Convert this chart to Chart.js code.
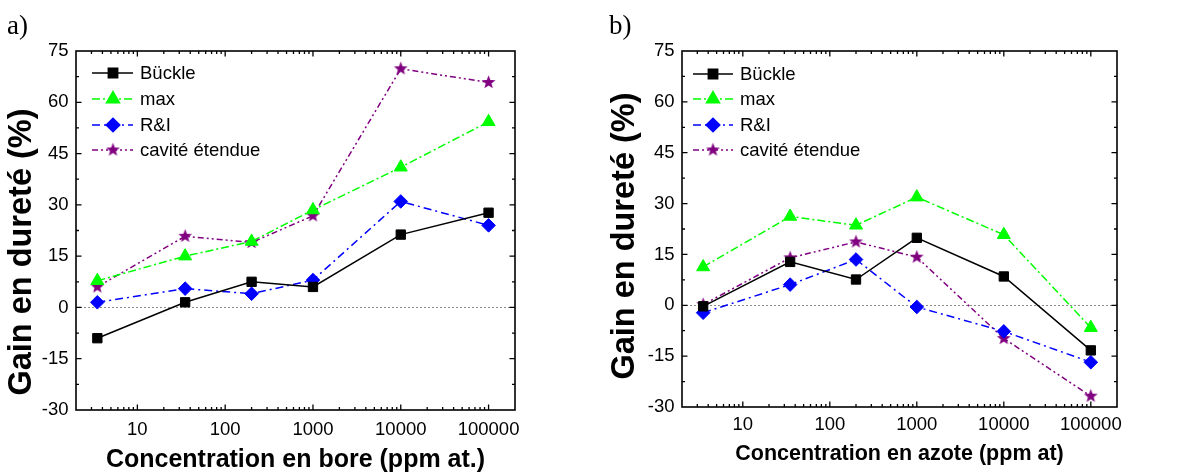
<!DOCTYPE html>
<html>
<head>
<meta charset="utf-8">
<script src="https://cdn.jsdelivr.net/npm/chart.js@4"></script>
<style>
  body{margin:0;background:#fff;width:1179px;height:473px;overflow:hidden;position:relative}
  canvas{position:absolute;top:0}
  #chartB{left:0}
  #chartA{left:590px}
</style>
</head>
<body>
<canvas id="chartB" width="590" height="473"></canvas>
<canvas id="chartA" width="589" height="473"></canvas>
<script>
// concentrations (ppm) - same for both panels
const concentrations = [3.5, 35, 200, 1000, 10000, 100000];

// a) bore
const boreBuckle  = [-9, 1.5, 7.5, 6, 21.3, 27.7];
const boreMax     = [7.8, 15, 19.3, 28.5, 41, 54.3];
const boreRI      = [1.5, 5.5, 4, 8, 31, 24];
const boreCavite  = [6, 20.8, 19, 26.8, 69.8, 65.8];

// b) azote
const azoteBuckle = [-0.3, 12.8, 7.6, 19.9, 8.5, -13.3];
const azoteMax    = [11.3, 26.2, 23.6, 31.9, 20.8, -6.6];
const azoteRI     = [-2.2, 6.1, 13.5, -0.5, -7.7, -16.8];
const azoteCavite = [0.2, 14, 18.7, 14.2, -9.8, -26.8];

const seriesNames = ['Bückle', 'max', 'R&I', 'cavité étendue'];
const xTickLabels = ['10', '100', '1000', '10000', '100000'];
const yTickLabels = ['-30', '-15', '0', '15', '30', '45', '60', '75'];

Chart.defaults.font.family = "'Liberation Sans', Arial, sans-serif";
Chart.defaults.color = '#000';

// filled five-point star marker
function makeStar(color, r){
  const c = document.createElement('canvas');
  const s = Math.ceil(r*2) + 2;
  c.width = c.height = s;
  const g = c.getContext('2d');
  g.fillStyle = color;
  g.beginPath();
  for(let i=0;i<10;i++){
    const rr = i%2 ? r*0.42 : r;
    const a = -Math.PI/2 + i*Math.PI/5;
    g.lineTo(s/2 + rr*Math.cos(a), s/2 + rr*Math.sin(a));
  }
  g.closePath();
  g.fill();
  return c;
}
const star = makeStar('#800080', 7.2);

const styles = [
  {color:'#000000', dash:[], point:'rect', radius:6.6},
  {color:'#00ff00', dash:[8,3,2,3], point:'triangle', radius:7.5},
  {color:'#0000ff', dash:[8,4,2,4], point:'rectRot', radius:6.8},
  {color:'#800080', dash:[6,3,2,3,2,3], point:star, radius:7}
];

// x minor/major tick values for the log axis
const xTicks = [];
for(let e=0;e<=5;e++){
  for(let k=1;k<=9;k++){
    const v = k*Math.pow(10,e);
    if(v>=2 && v<=200000) xTicks.push(v);
  }
}

function toPoints(ys){ return ys.map((y,i)=>({x:concentrations[i], y:y})); }

// frame, inward ticks on all four sides, dashed zero line
const framePlugin = {
  id:'frame',
  beforeDatasetsDraw(chart){
    const {ctx, chartArea:a, scales:{x, y}} = chart;
    ctx.save();
    // zero line
    const y0 = Math.round(y.getPixelForValue(0)) + 0.5;
    ctx.strokeStyle = '#8c8c8c';
    ctx.lineWidth = 1;
    ctx.setLineDash([2,2]);
    ctx.beginPath(); ctx.moveTo(a.left, y0); ctx.lineTo(a.right, y0); ctx.stroke();
    ctx.setLineDash([]);
    ctx.strokeStyle = '#000';
    ctx.lineWidth = 1.3;
    x.ticks.forEach(t=>{
      const px = x.getPixelForValue(t.value);
      if(px < a.left+1 || px > a.right-1) return;
      const len = xTickLabels.includes(String(t.value)) ? 5.5 : 3;
      ctx.beginPath();
      ctx.moveTo(px, a.bottom); ctx.lineTo(px, a.bottom-len);
      ctx.moveTo(px, a.top); ctx.lineTo(px, a.top+len);
      ctx.stroke();
    });
    y.ticks.forEach(t=>{
      const py = y.getPixelForValue(t.value);
      if(py < a.top+1 || py > a.bottom-1) return;
      const len = yTickLabels.includes(String(t.value)) ? 5.5 : 3;
      ctx.beginPath();
      ctx.moveTo(a.left, py); ctx.lineTo(a.left+len, py);
      ctx.moveTo(a.right, py); ctx.lineTo(a.right-len, py);
      ctx.stroke();
    });
    ctx.lineWidth = 1.6;
    ctx.strokeRect(a.left, a.top, a.right-a.left, a.bottom-a.top);
    ctx.restore();
  }
};

// legend inside plot, y title and panel letter
const decorPlugin = {
  id:'decor',
  afterDatasetsDraw(chart, args, o){
    const ctx = chart.ctx;
    ctx.save();
    chart.data.datasets.forEach((ds,i)=>{
      const yy = o.legendRows[i];
      ctx.strokeStyle = ds.borderColor;
      ctx.lineWidth = 1.5;
      ctx.setLineDash(ds.borderDash);
      ctx.beginPath(); ctx.moveTo(o.legendX0, yy); ctx.lineTo(o.legendX1, yy); ctx.stroke();
      ctx.setLineDash([]);
      ctx.fillStyle = ds.borderColor;
      Chart.helpers.drawPoint(ctx, {pointStyle:ds.pointStyle, radius:ds.pointRadius, rotation:0, borderWidth:1}, o.legendMark, yy);
      ctx.fillStyle = '#000';
      ctx.font = "18.5px 'Liberation Sans', Arial, sans-serif";
      ctx.textBaseline = 'middle';
      ctx.textAlign = 'left';
      ctx.fillText(ds.label, o.legendText, yy+1);
    });
    // y title
    ctx.save();
    ctx.translate(o.yTitleX, o.yTitleY);
    ctx.rotate(-Math.PI/2);
    ctx.font = "bold 32.5px 'Liberation Sans', Arial, sans-serif";
    ctx.textAlign = 'center';
    ctx.textBaseline = 'middle';
    ctx.fillStyle = '#000';
    ctx.fillText('Gain en dureté (%)', 0, 0);
    ctx.restore();
    // panel letter
    ctx.font = "27px 'Liberation Serif', 'Times New Roman', serif";
    ctx.textAlign = 'left';
    ctx.textBaseline = 'alphabetic';
    ctx.fillText(o.panel, o.panelX, 34);
    ctx.restore();
  }
};

function makeChart(id, series, cfg){
  const canvas = document.getElementById(id);
  const W = canvas.width, H = canvas.height;
  const datasets = series.map((ys,i)=>({
    label: seriesNames[i],
    data: toPoints(ys),
    borderColor: styles[i].color,
    backgroundColor: styles[i].color,
    borderWidth: 1.5,
    borderDash: styles[i].dash,
    pointStyle: styles[i].point,
    pointRadius: styles[i].radius,
    pointBackgroundColor: styles[i].color,
    pointBorderColor: styles[i].color,
    pointBorderWidth: 1,
    tension: 0
  }));
  return new Chart(canvas, {
    type:'line',
    data:{datasets},
    options:{
      responsive:false,
      animation:false,
      devicePixelRatio:1,
      layout:{padding:{left:0, top:cfg.area.top, right:W-cfg.area.right, bottom:0}},
      plugins:{
        legend:{display:false},
        tooltip:{enabled:false},
        decor:cfg.decor
      },
      scales:{
        x:{
          type:'logarithmic',
          min:2, max:200000,
          grid:{display:false, drawTicks:false},
          border:{display:false},
          afterBuildTicks(s){ s.ticks = xTicks.map(v=>({value:v})); },
          afterFit(s){ s.height = H - cfg.area.bottom; },
          ticks:{
            autoSkip:false, maxRotation:0, padding:cfg.xTickPad,
            font:{size:18.5},
            callback:(v)=> xTickLabels.includes(String(v)) ? String(v) : ''
          },
          title:{
            display:true, text:cfg.xTitle,
            font:{size:cfg.xTitleSize, weight:'bold', lineHeight:1},
            padding:{top:0, bottom:cfg.xTitlePad}
          }
        },
        y:{
          type:'linear',
          min:-30, max:75,
          grid:{display:false, drawTicks:false},
          border:{display:false},
          afterFit(s){ s.width = cfg.area.left; },
          ticks:{
            stepSize:7.5, autoSkip:false, padding:7.5,
            font:{size:18.5},
            callback:(v)=> yTickLabels.includes(String(v)) ? String(v) : ''
          }
        }
      }
    },
    plugins:[framePlugin, decorPlugin]
  });
}

makeChart('chartB', [boreBuckle, boreMax, boreRI, boreCavite], {
  area:{left:76, right:515, top:51, bottom:410},
  xTickPad:9,
  xTitle:'Concentration en bore (ppm at.)', xTitleSize:25, xTitlePad:0,
  decor:{legendRows:[73,99,125,150], legendX0:92, legendX1:133, legendMark:113, legendText:140,
         yTitleX:22, yTitleY:252, panel:'a)', panelX:7}
});

makeChart('chartA', [azoteBuckle, azoteMax, azoteRI, azoteCavite], {
  area:{left:92, right:527, top:51, bottom:407},
  xTickPad:7,
  xTitle:'Concentration en azote (ppm at)', xTitleSize:21.5, xTitlePad:8,
  decor:{legendRows:[74,99,125,150], legendX0:103, legendX1:143, legendMark:123, legendText:150,
         yTitleX:35, yTitleY:236, panel:'b)', panelX:19}
});
</script>
</body>
</html>
